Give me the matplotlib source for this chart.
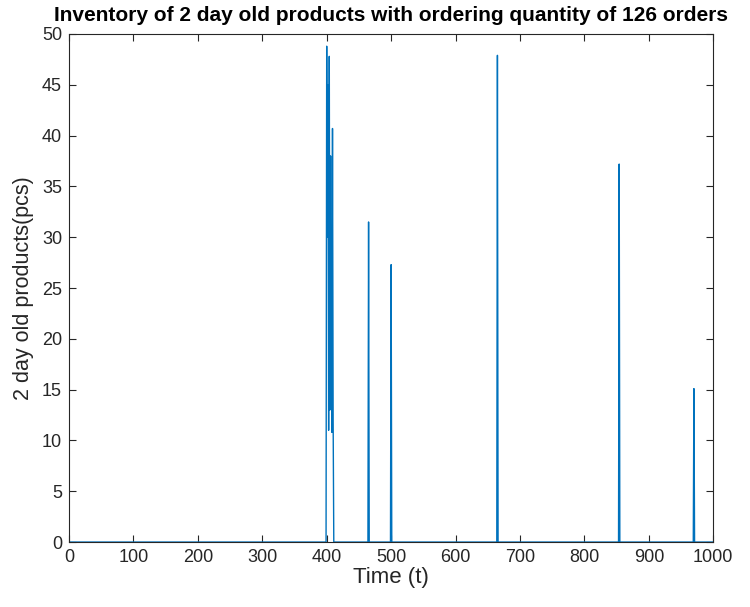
import numpy as np
import matplotlib.pyplot as plt

plt.rcParams['font.family'] = ['Liberation Sans', 'DejaVu Sans']

# days with non-zero stock of 2 day old products (rest of the horizon is 0)
spike_days = [400, 401, 402, 403, 404, 405, 406, 407, 408, 409, 410,
              465, 500, 665, 854, 970]
spike_vals = [48.8, 30.0, 45.0, 11.0, 47.8, 13.0, 38.0, 20.0, 10.8, 40.7, 12.0,
              31.5, 27.3, 47.9, 37.2, 15.1]

t = np.arange(0, 1001)
inv = np.zeros(len(t))
inv[spike_days] = spike_vals

fig = plt.figure(figsize=(7.5, 6.07), dpi=100)
ax = fig.add_axes([0.092, 0.107, 0.859, 0.837])

ax.plot(t, inv, color='#0072BD', linewidth=1.0)

ax.set_xlim(0, 1000)
ax.set_ylim(0, 50)
ax.set_xticks(np.arange(0, 1001, 100))
ax.set_yticks(np.arange(0, 51, 5))

ax.tick_params(direction='in', top=True, right=True, length=5,
               labelsize=13, colors='#262626', pad=5)
for s in ax.spines.values():
    s.set_color('#262626')
    s.set_linewidth(0.8)

ax.set_xlabel('Time (t)', fontsize=16, color='#262626', labelpad=1)
ax.set_ylabel('2 day old products(pcs)', fontsize=15.5, color='#262626', labelpad=6)
ax.set_title('Inventory of 2 day old products with ordering quantity of 126 orders',
             fontsize=15, fontweight='bold', pad=9)

fig.savefig('out.png', dpi=100)
